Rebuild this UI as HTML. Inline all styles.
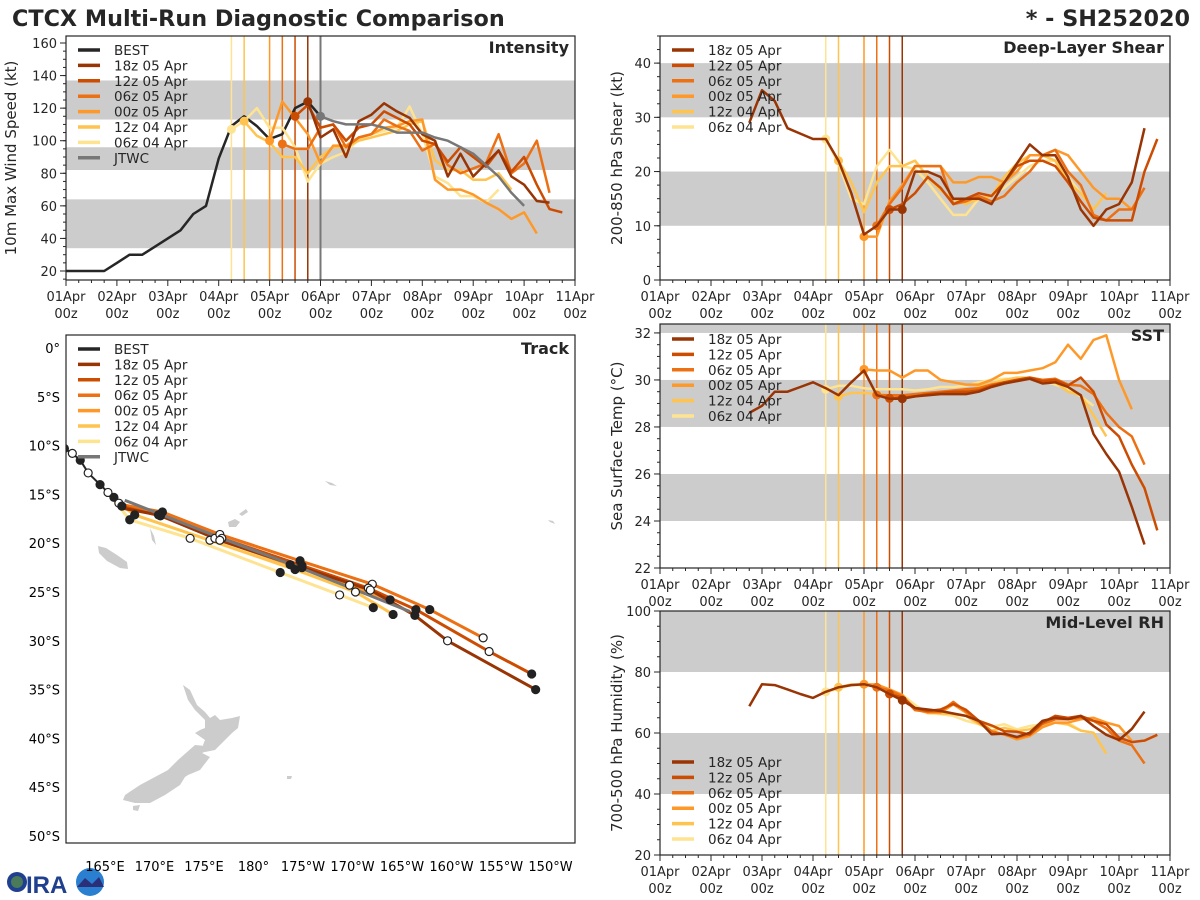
<!DOCTYPE html>
<html><head><meta charset="utf-8"><style>
html,body{margin:0;padding:0;background:#fff}
svg{display:block;font-family:"DejaVu Sans","Liberation Sans",sans-serif}
</style></head><body>
<svg id="fig" width="1200" height="900" viewBox="0 0 1200 900" xmlns="http://www.w3.org/2000/svg">
<text x="12" y="26" font-size="22.3" font-weight="bold" fill="#262626">CTCX Multi-Run Diagnostic Comparison</text>
<text x="1190" y="26" font-size="22.3" font-weight="bold" fill="#262626" text-anchor="end">* - SH252020</text>
<g>
<circle cx="17" cy="882" r="10" fill="#1f3f8f"/><circle cx="17" cy="882" r="6" fill="#4a7a5a"/>
<text x="26" y="893" font-size="24" font-weight="bold" fill="#1f3f8f" font-family="Liberation Sans, sans-serif">IRA</text>
<circle cx="90" cy="882" r="14" fill="#2a7fd0"/><path d="M77,887 L85,878 L92,884 L99,877 L104,887 Z" fill="#2b2f7a"/>
</g>
</svg>
<script>
// ---------- DATA ----------
const runNames = ["18z 05 Apr","12z 05 Apr","06z 05 Apr","00z 05 Apr","12z 04 Apr","06z 04 Apr"];
const runInitHours = [114,108,102,96,84,78];
const stepHours = 6;
const dayLabels = ["01Apr","02Apr","03Apr","04Apr","05Apr","06Apr","07Apr","08Apr","09Apr","10Apr","11Apr"];

const intBestStart = 0;
const intBest = [20,20,20,20,25,30,30,35,40,45,55,60,89,109,115,109,101,104,120,124,115];
const intJtwcStart = 120;
const intJtwc = [115,112,110,110,110,108,105,105,105,102,100,96,92,85,78,68,60];
const intStarts = [114,108,102,96,84,78];
const int18z05 = [124,102,107,90,112,116,123,118,114,104,100,78,92,78,86,94,78,73,63,62];
const int12z05 = [115,122,108,110,100,108,110,118,114,110,100,98,87,96,90,84,94,81,90,73,58,56];
const int06z05 = [98,95,95,108,110,96,102,104,113,109,106,94,98,85,80,83,86,104,80,86,100,68];
const int00z05 = [100,124,114,104,86,97,97,102,104,108,109,112,113,76,70,70,67,62,58,52,56,43];
const int12z04 = [112,103,99,90,90,80,90,96,96,100,102,104,106,110,112,88,82,82,76,76,80,70];
const int06z04 = [107,112,120,108,108,96,75,86,90,93,101,104,106,108,121,104,78,74,66,66,62,70];

const shrStarts = [42,108,102,96,84,78];
const shr18z05 = [29,35,33,28,27,26,26,22,16,8.4,10,13,13,20,20,19,15,15,15,14,18,21.5,25,23,23,19,13,10,13,14,18,28];
const shr12z05 = [13,14,16,19,17,14,15,16,15.5,18,21,22,22,21,18,14.5,11.5,11,11,11,20,26];
const shr06z05 = [10,14,17,21,21,21,14,14.5,15.5,14.5,15.5,18,20,23,24,20,17.5,12,11,13,13,17];
const shr00z05 = [8,8,14.5,17.5,21,21,21,18,18,19,19,18,20,23,23,24,23,20,17,15,15,13];
const shr12z04 = [22,18,12.5,18,21,21,22,19,16.5,15,14,15,15.5,19,21.5,23,23,22,18,16,13,16];
const shr06z04 = [26,21.5,15,14,21,24,21,20.5,18,15,12,12,15,15.5,17,19,21,22,22,19,16,13];

const sstStarts = [42,108,102,96,84,78];
const sst18z05 = [28.6,28.9,29.5,29.5,29.7,29.9,29.65,29.35,29.9,30.4,29.35,29.2,29.2,29.3,29.35,29.4,29.4,29.4,29.5,29.7,29.85,29.95,30.05,29.85,29.9,29.7,29.35,27.7,26.85,26.1,24.6,23.0];
const sst12z05 = [29.22,29.25,29.3,29.4,29.45,29.5,29.5,29.55,29.75,29.9,30.0,30.1,29.95,30.0,29.77,30.1,29.5,28.1,27.6,26.4,25.4,23.6];
const sst06z05 = [29.36,29.35,29.35,29.4,29.45,29.5,29.55,29.6,29.65,29.8,29.9,30.0,30.1,30.0,30.05,29.8,29.75,29.4,28.6,28.0,27.6,26.4];
const sst00z05 = [30.45,30.4,30.4,30.1,30.4,30.4,30.0,29.9,29.8,29.8,30.0,30.3,30.3,30.4,30.5,30.75,31.5,30.9,31.7,31.9,30.0,28.75];
const sst12z04 = [29.3,29.45,29.45,29.4,29.35,29.35,29.35,29.4,29.45,29.5,29.55,29.7,29.85,30.0,30.1,30.1,30.0,29.9,29.5,29.35,28.5,27.6];
const sst06z04 = [29.6,29.75,29.75,29.65,29.6,29.6,29.6,29.55,29.6,29.7,29.7,29.75,29.9,30.0,30.05,30.05,30.1,29.95,29.8,29.6,29.3,28.9];

const rhStarts = [42,108,102,96,84,78];
const rh18z05 = [68.8,76,75.7,74.3,72.8,71.5,73.5,75,75.7,76,75,72.8,70.7,68.2,67.7,67.2,66.4,65.6,64,59.6,59.8,58.7,60.1,64,65,64.5,65.6,62.3,59.4,57.7,61.3,67];
const rh12z05 = [72.8,71.6,68.2,67.2,67.7,69.5,67.6,64,62.5,60.6,60.4,59.5,63.4,65.6,65,65.6,64,62.9,58.5,57,57.5,59.4];
const rh06z05 = [75,74,72,67.5,67,67,70.2,67,64,60.5,59.5,58.5,59.5,63,64.5,64.5,65,64,61.5,57.5,56,50];
const rh00z05 = [76,75.9,74.3,72.5,67.7,66.7,66.7,69.4,66.7,63.4,60.6,59.5,57.9,59,61.9,63.4,63.4,64.5,65,63.4,62.3,57.4];
const rh12z04 = [75,75.9,75.9,75.7,73.8,71.6,67.7,67,66.4,66.2,65.6,63,60.8,61.7,60.6,61.2,62.8,63.4,62.8,60.8,60.1,53.2];
const rh06z04 = [73.5,74.5,75.7,75.7,75.7,74.3,72.5,69.2,66.4,66.2,65.6,64,62.9,62,62.9,61.2,62.3,62.9,63.4,63.4,60.8,60.1];

// track points [lon east 0-360, lat]
const trkBest = [[160.3,-9.9],[160.9,-10.3],[161.7,-10.8],[162.5,-11.5],[163.3,-12.8],[164.5,-14.0],[165.3,-14.8],[165.9,-15.3],[166.4,-15.9],[166.7,-16.2]];
const trk18z05 = [[166.7,-16.4],[170.4,-17.1],[176.6,-19.7],[184.9,-22.5],[191.8,-24.8],[196.3,-27.4],[199.6,-30.0],[208.5,-35.0]];
const trk12z05 = [[166.5,-16.2],[170.6,-17.2],[176.8,-19.5],[184.9,-22.3],[191.6,-24.6],[196.4,-26.8],[203.8,-31.1],[208.1,-33.4]];
const trk06z05 = [[166.4,-16.0],[170.8,-16.8],[176.6,-19.1],[184.7,-21.8],[192.0,-24.2],[197.8,-26.8],[203.2,-29.7]];
const trk00z05 = [[166.2,-15.9],[170.6,-17.0],[176.1,-19.5],[183.7,-22.2],[189.7,-24.3],[193.8,-25.8]];
const trk12z04 = [[166.0,-15.6],[168.0,-17.1],[175.6,-19.7],[184.2,-22.7],[190.3,-25.0],[194.1,-27.3]];
const trk06z04 = [[165.5,-15.1],[167.5,-17.6],[173.6,-19.5],[182.7,-23.0],[188.7,-25.3],[192.1,-26.6]];
const trkJtwc = [[167.0,-15.6],[176.8,-19.5],[184.7,-22.5],[195.8,-27.0]];
const lonTicks = [165,170,175,180,185,190,195,200,205,210];
const lonTickLabels = ["165°E","170°E","175°E","180°","175°W","170°W","165°W","160°W","155°W","150°W"];
const latTicks = [0,-5,-10,-15,-20,-25,-30,-35,-40,-45,-50];
const latTickLabels = ["0°","5°S","10°S","15°S","20°S","25°S","30°S","35°S","40°S","45°S","50°S"];

// ---------- DRAWING ----------
const runColors = ["#993404","#cc4c02","#ec7014","#fe9929","#fec44f","#fee391"];
const NS = "http://www.w3.org/2000/svg";
const svg = document.getElementById('fig');
function mk(tag, attrs, parent){
  const e = document.createElementNS(NS, tag);
  for (const k in attrs) e.setAttribute(k, attrs[k]);
  (parent||svg).appendChild(e);
  return e;
}
function slug(s){return s.toLowerCase().replace(/[^a-z0-9]+/g,'-');}

function timePanel(p){
  const g = mk('g', {});
  
  
  const xs = h => p.x0 + (h/240)*(p.x1-p.x0);
  const ys = v => p.y1 - (v-p.ymin)/(p.ymax-p.ymin)*(p.y1-p.y0);
  const cp = 'clip-' + p.name;
  const cl = mk('clipPath', {id: cp}, g);
  mk('rect', {x:p.x0, y:p.y0, width:p.x1-p.x0, height:p.y1-p.y0}, cl);
  const inner = mk('g', {'clip-path':'url(#'+cp+')'}, g);
  p.bands.forEach(b => {
    const r = mk('rect', {x:p.x0, y:ys(Math.min(b[1],p.ymax)), width:p.x1-p.x0, height:ys(b[0])-ys(Math.min(b[1],p.ymax)), fill:'#cccccc'}, inner);
    
    
  });
  runInitHours.forEach((h,i) => {
    const l = mk('line', {x1:xs(h), x2:xs(h), y1:p.y0, y2:p.y1, stroke:runColors[i], 'stroke-width':1.5}, inner);
    
    
  });
  if (p.jtwcLine){
    const l = mk('line', {x1:xs(120), x2:xs(120), y1:p.y0, y2:p.y1, stroke:'#777', 'stroke-width':2}, inner);
    
    
  }
  const drawSeries = (vals, start, color, name, w, dot) => {
    const pts = vals.map((v,k) => xs(start+k*stepHours).toFixed(1)+','+ys(v).toFixed(1)).join(' ');
    const pl = mk('polyline', {points:pts, fill:'none', stroke:color, 'stroke-width':w, 'stroke-linejoin':'round'}, inner);
    
    
    if (dot){
      const k = Math.round((dot.h - start)/stepHours);
      if (k >= 0 && k < vals.length){
        const c = mk('circle', {cx:xs(dot.h), cy:ys(vals[k]), r:4.5, fill:color}, inner);
        
        
      }
    }
  };
  if (p.best) drawSeries(p.best, p.bestStart, '#262626', 'best', 2.5);
  for (let i = p.series.length-1; i >= 0; i--){
    drawSeries(p.series[i], p.starts[i], runColors[i], slug(runNames[i]), 2.5, {h:runInitHours[i]});
  }
  if (p.jtwc) drawSeries(p.jtwc, p.jtwcStart, '#777777', 'jtwc', 2.5, {h:120});
  const fr = mk('rect', {x:p.x0, y:p.y0, width:p.x1-p.x0, height:p.y1-p.y0, fill:'none', stroke:'#262626', 'stroke-width':1.2}, g);
  
  
  for (let h = 0; h <= 240; h += 6){
    const major = h % 24 === 0;
    mk('line', {x1:xs(h), x2:xs(h), y1:p.y1, y2:p.y1+(major?6:3), stroke:'#262626', 'stroke-width':1}, g);
  }
  dayLabels.forEach((d,i) => {
    const t = mk('text', {x:xs(i*24), y:p.y1+21, 'font-size':13, fill:'#262626', 'text-anchor':'middle'}, g);
    t.textContent = d;
    
    
    const t2 = mk('text', {x:xs(i*24), y:p.y1+38, 'font-size':13, fill:'#262626', 'text-anchor':'middle'}, g);
    t2.textContent = '00z';
    
    
  });
  for (let v = p.minorStart; v <= p.ymax; v += p.minor){
    if (v < p.ymin) continue;
    mk('line', {x1:p.x0-3, x2:p.x0, y1:ys(v), y2:ys(v), stroke:'#262626', 'stroke-width':1}, g);
  }
  p.yTicks.forEach(v => {
    mk('line', {x1:p.x0-6, x2:p.x0, y1:ys(v), y2:ys(v), stroke:'#262626', 'stroke-width':1}, g);
    const t = mk('text', {x:p.x0-9, y:ys(v)+5, 'font-size':13, fill:'#262626', 'text-anchor':'end'}, g);
    t.textContent = v;
    
    
  });
  const yc = (p.y0+p.y1)/2;
  const yt = mk('text', {x:p.ylx, y:yc, 'font-size':15, fill:'#262626', 'text-anchor':'middle', transform:'rotate(-90 '+p.ylx+' '+yc+')'}, g);
  yt.textContent = p.ylabel;
  
  
  const tt = mk('text', {x:p.x1-6, y:p.y0+17, 'font-size':16, 'font-weight':'bold', fill:'#262626', 'text-anchor':'end'}, g);
  tt.textContent = p.title;
  
  
  legend(g, p.x0+12, p.legY, p.legItems);
}

function legend(g, x, y, items){
  const lg = mk('g', {}, g);
  
  
  items.forEach((it,i) => {
    const yy = y + i*15.4;
    const e = mk('g', {}, lg);
    
    
    mk('line', {x1:x, x2:x+22, y1:yy, y2:yy, stroke:it[1], 'stroke-width':3.5}, e);
    const t = mk('text', {x:x+36, y:yy+5, 'font-size':13.5, fill:'#262626'}, e);
    t.textContent = it[0];
  });
}

const runLegend = runNames.map((n,i) => [n, runColors[i]]);

timePanel({name:'intensity', x0:66, x1:575, y0:36, y1:280, ymin:14.47, ymax:164.3,
  bands:[[34,64],[82,96],[113,137]], yTicks:[20,40,60,80,100,120,140,160], minor:5, minorStart:15,
  ylabel:'10m Max Wind Speed (kt)', ylx:16, title:'Intensity',
  best:intBest, bestStart:intBestStart, jtwc:intJtwc, jtwcStart:intJtwcStart, jtwcLine:true,
  series:[int18z05,int12z05,int06z05,int00z05,int12z04,int06z04], starts:intStarts,
  legY:50, legItems:[['BEST','#262626']].concat(runLegend).concat([['JTWC','#777777']])});

timePanel({name:'shear', x0:660, x1:1170, y0:36, y1:280, ymin:0, ymax:45,
  bands:[[10,20],[30,40]], yTicks:[0,10,20,30,40], minor:2.5, minorStart:0,
  ylabel:'200-850 hPa Shear (kt)', ylx:622, title:'Deep-Layer Shear',
  series:[shr18z05,shr12z05,shr06z05,shr00z05,shr12z04,shr06z04], starts:shrStarts,
  legY:50, legItems:runLegend});

timePanel({name:'sst', x0:660, x1:1170, y0:324, y1:568, ymin:22, ymax:32.38,
  bands:[[24,26],[28,30],[32,34]], yTicks:[22,24,26,28,30,32], minor:0.5, minorStart:22,
  ylabel:'Sea Surface Temp (°C)', ylx:622, title:'SST',
  series:[sst18z05,sst12z05,sst06z05,sst00z05,sst12z04,sst06z04], starts:sstStarts,
  legY:339, legItems:runLegend});

timePanel({name:'rh', x0:660, x1:1170, y0:611, y1:855, ymin:20, ymax:100,
  bands:[[40,60],[80,100]], yTicks:[20,40,60,80,100], minor:5, minorStart:20,
  ylabel:'700-500 hPa Humidity (%)', ylx:622, title:'Mid-Level RH',
  series:[rh18z05,rh12z05,rh06z05,rh00z05,rh12z04,rh06z04], starts:rhStarts,
  legY:762, legItems:runLegend});

// ---------- TRACK MAP ----------
(function(){
  const X0=66, X1=575, Y0=335, Y1=843;
  const lx = lon => 105 + (lon-165)*9.9;
  const ly = lat => 348 - lat*9.76;
  const g = mk('g', {});
  
  
  const cl = mk('clipPath', {id:'clip-track'}, g);
  mk('rect', {x:X0, y:Y0, width:X1-X0, height:Y1-Y0}, cl);
  const inner = mk('g', {'clip-path':'url(#clip-track)'}, g);
  const land = [
    "183,685 190,690 197,705 205,712 210,718 215,715 220,720 232,718 240,716 238,728 232,733 225,740 215,750 205,752 203,745 205,740 195,733 200,730 205,728 205,720 195,710 188,700",
    "217,747 195,745 178,760 168,770 140,785 125,795 123,800 135,803 150,803 165,795 180,785 185,777 188,775 200,770 210,757 202,753",
    "133,806 140,805 138,811 133,810",
    "98,546 106,548 117,555 127,562 128,569 120,568 107,561 99,553",
    "228,522 235,519 240,522 236,527 229,527",
    "239,514 246,509 248,512 242,516",
    "325,481 332,483 337,486 330,485",
    "150,528 154,536 156,545 152,540",
    "287,776 292,776 291,779 287,779",
    "548,520 553,521 555,524 550,522"
  ];
  land.forEach(pts => {
    const p = mk('polygon', {points:pts, fill:'#cccccc'}, inner);
    
    
  });
  const tracks = [trk06z04,trk12z04,trk00z05,trk06z05,trk12z05,trk18z05];
  const tcol = [runColors[5],runColors[4],runColors[3],runColors[2],runColors[1],runColors[0]];
  const tname = [runNames[5],runNames[4],runNames[3],runNames[2],runNames[1],runNames[0]];
  const drawTrack = (trk, color, name, w) => {
    const pl = mk('polyline', {points:trk.map(q => lx(q[0]).toFixed(1)+','+ly(q[1]).toFixed(1)).join(' '), fill:'none', stroke:color, 'stroke-width':w, 'stroke-linejoin':'round'}, inner);
    
    
  };
  const drawDots = (trk, name) => {
    trk.forEach((q,k) => {
      if (k === 0) return;
      const c = mk('circle', {cx:lx(q[0]), cy:ly(q[1]), r:4, fill:(k%2? '#222':'#fff'), stroke:'#222', 'stroke-width':1.2}, inner);
      
      
    });
  };
  tracks.forEach((t,i) => drawTrack(t, tcol[i], slug(tname[i]), 3));
  drawTrack(trkJtwc, '#777777', 'jtwc', 3);
  drawTrack(trkBest, '#262626', 'best', 2);
  tracks.forEach((t,i) => drawDots(t, slug(tname[i])));
  drawDots(trkBest, 'best');
  const fr = mk('rect', {x:X0, y:Y0, width:X1-X0, height:Y1-Y0, fill:'none', stroke:'#262626', 'stroke-width':1.2}, g);
  
  
  lonTicks.forEach((lon,i) => {
    const t = mk('text', {x:lx(lon), y:871, 'font-size':13, fill:'#000', 'text-anchor':'middle'}, g);
    t.textContent = lonTickLabels[i];
    
    
  });
  latTicks.forEach((lat,i) => {
    const t = mk('text', {x:60, y:ly(lat)+5, 'font-size':13, fill:'#000', 'text-anchor':'end'}, g);
    t.textContent = latTickLabels[i];
    
    
  });
  const tt = mk('text', {x:X1-6, y:Y0+19, 'font-size':16, 'font-weight':'bold', fill:'#262626', 'text-anchor':'end'}, g);
  tt.textContent = 'Track';
  
  
  legend(g, 78, 349, [['BEST','#262626']].concat(runLegend).concat([['JTWC','#777777']]));
})();
</script>
</body></html>
